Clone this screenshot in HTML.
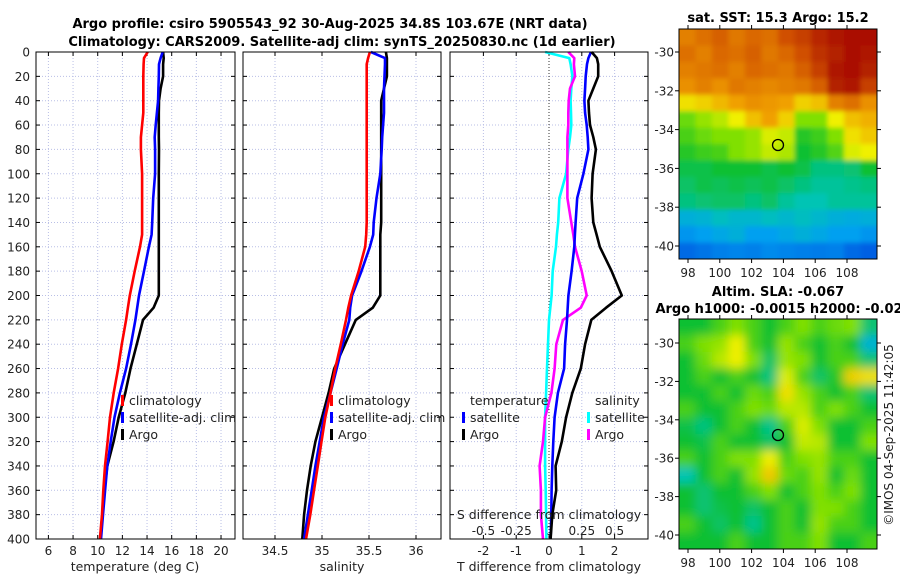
<!DOCTYPE html>
<html><head><meta charset="utf-8"><style>
html,body{margin:0;padding:0;background:#fff;}
svg{display:block;font-family:"DejaVu Sans","Liberation Sans",sans-serif;}
</style></head><body>
<svg id="fig" width="900" height="580" viewBox="0 0 900 580" xmlns="http://www.w3.org/2000/svg">
<defs>
<filter id="blurSla" x="-10%" y="-10%" width="120%" height="120%"><feGaussianBlur stdDeviation="5"/></filter>
<filter id="blurSst" x="-10%" y="-10%" width="120%" height="120%"><feGaussianBlur stdDeviation="2.5"/></filter>
<clipPath id="clipSst"><rect x="679" y="29" width="198" height="230"/></clipPath>
<clipPath id="clipSla"><rect x="679" y="319" width="198" height="230"/></clipPath>
</defs>
<text x="330" y="28" text-anchor="middle" font-size="13" font-weight="bold">Argo profile: csiro 5905543_92 30-Aug-2025 34.8S 103.67E (NRT data)</text>
<text x="342" y="46" text-anchor="middle" font-size="13" font-weight="bold">Climatology: CARS2009. Satellite-adj clim: synTS_20250830.nc (1d earlier)</text>
<text x="778" y="22" text-anchor="middle" font-size="13" font-weight="bold">sat. SST: 15.3 Argo: 15.2</text>
<text x="778" y="296" text-anchor="middle" font-size="13" font-weight="bold">Altim. SLA: -0.067</text>
<text x="779" y="313" text-anchor="middle" font-size="13" font-weight="bold">Argo h1000: -0.0015 h2000: -0.02</text>
<text transform="translate(893,435) rotate(-90)" text-anchor="middle" font-size="12" fill="#222">©IMOS 04-Sep-2025 11:42:05</text>
<g id="layer"></g>
</svg>
<script>
// ---- data ----
const depths = [0,5,10,20,30,40,50,60,70,80,100,120,140,150,160,180,200,210,220,240,260,280,300,320,340,360,380,400];
const tClim  = [14.05,13.75,13.72,13.7,13.7,13.7,13.7,13.6,13.5,13.5,13.6,13.6,13.6,13.6,13.43,13.0,12.6,12.45,12.3,11.95,11.65,11.3,11.0,10.8,10.59,10.45,10.35,10.18];
const tSat   = [15.27,15.1,14.97,14.95,14.92,14.9,14.8,14.7,14.62,14.65,14.65,14.5,14.42,14.37,14.15,13.75,13.35,13.2,13.06,12.7,12.3,11.8,11.36,11.05,10.78,10.6,10.43,10.27];
const tArgo  = [15.3,15.35,15.3,15.3,15.1,14.97,14.95,14.95,14.95,14.97,14.95,14.95,14.95,14.95,14.95,14.95,14.95,14.53,13.67,13.17,12.66,12.24,11.7,11.29,10.78,10.54,10.37,10.2];
const sClim  = [35.51,35.49,35.475,35.475,35.475,35.475,35.475,35.475,35.475,35.475,35.475,35.475,35.475,35.47,35.46,35.39,35.31,35.28,35.255,35.2,35.14,35.09,35.035,34.995,34.955,34.915,34.875,34.83];
const sSat   = [35.52,35.67,35.67,35.665,35.66,35.66,35.66,35.65,35.64,35.635,35.62,35.58,35.55,35.545,35.51,35.42,35.32,35.3,35.29,35.22,35.156,35.09,35.02,34.975,34.93,34.89,34.85,34.81];
const sArgo  = [35.68,35.69,35.69,35.69,35.66,35.63,35.63,35.63,35.63,35.63,35.63,35.63,35.63,35.62,35.62,35.62,35.62,35.54,35.36,35.245,35.13,35.07,35.0,34.93,34.88,34.84,34.81,34.79];
const dTSat  = [1.28,1.2,1.16,1.12,1.1,1.08,1.1,1.15,1.18,1.2,1.05,0.86,0.81,0.79,0.77,0.69,0.59,0.57,0.55,0.49,0.46,0.27,0.17,0.13,0.1,0.08,0.07,0.05];
const dTArgo = [1.3,1.46,1.5,1.5,1.35,1.2,1.22,1.25,1.35,1.43,1.33,1.3,1.35,1.45,1.55,1.91,2.22,1.74,1.29,1.1,0.97,0.71,0.52,0.39,0.2,0.22,0.1,0.05];
const dSSat  = [-0.03,0.155,0.165,0.178,0.17,0.165,0.168,0.17,0.16,0.147,0.13,0.079,0.07,0.06,0.053,0.028,0.02,0.01,0.0,-0.008,-0.015,-0.022,-0.03,-0.03,-0.03,-0.025,-0.022,-0.02];
const dSArgo = [0.147,0.193,0.19,0.198,0.16,0.15,0.147,0.147,0.14,0.14,0.14,0.14,0.17,0.185,0.198,0.249,0.287,0.242,0.107,0.056,0.043,0.018,-0.03,-0.046,-0.072,-0.062,-0.062,-0.046];
const depthTicks = [0,20,40,60,80,100,120,140,160,180,200,220,240,260,280,300,320,340,360,380,400];
const tTicks = [6,8,10,12,14,16,18,20];
const sTicks = [34.5,35,35.5,36];
const dTTicks = [-2,-1,0,1,2];
const dSTickLabels = ["-0.5","-0.25","0","0.25","0.5"];
const dSTicks = [-0.5,-0.25,0,0.25,0.5];
const lonTicks = [98,100,102,104,106,108];
const latTicks = [-30,-32,-34,-36,-38,-40];
const sstGrid = [
[.84,.86,.88,.85,.87,.86,.9,.92,.95,.97,.98,.98],
[.86,.84,.87,.86,.88,.85,.87,.9,.94,.96,.98,.97],
[.84,.85,.86,.84,.87,.86,.85,.88,.92,.97,.98,.96],
[.82,.84,.82,.85,.84,.83,.84,.85,.88,.96,.97,.92],
[.72,.74,.77,.8,.82,.81,.8,.74,.76,.84,.86,.82],
[.58,.62,.65,.7,.76,.8,.74,.6,.6,.7,.76,.78],
[.55,.58,.6,.6,.62,.68,.66,.52,.54,.6,.72,.75],
[.52,.54,.55,.6,.62,.66,.64,.5,.52,.56,.68,.7],
[.48,.48,.5,.5,.5,.48,.5,.48,.44,.44,.45,.5],
[.46,.48,.47,.48,.47,.48,.46,.44,.42,.42,.43,.44],
[.44,.45,.46,.46,.44,.46,.42,.4,.4,.42,.42,.42],
[.34,.35,.38,.36,.36,.38,.36,.38,.36,.34,.33,.34],
[.28,.3,.32,.34,.3,.3,.32,.34,.32,.3,.3,.28],
[.2,.22,.24,.25,.24,.26,.25,.24,.23,.24,.2,.18]];
const slaGrid = [
[.5,.5,.55,.6,.55,.5,.55,.6,.55,.58,.6,.45],
[.55,.6,.62,.7,.55,.5,.62,.55,.5,.55,.5,.35],
[.5,.58,.65,.7,.6,.46,.62,.6,.5,.55,.55,.45],
[.5,.55,.5,.55,.5,.44,.68,.55,.46,.52,.74,.72],
[.5,.5,.55,.5,.58,.55,.72,.62,.55,.5,.55,.45],
[.55,.5,.5,.55,.6,.58,.65,.65,.55,.6,.55,.5],
[.48,.44,.5,.55,.5,.43,.55,.68,.6,.5,.5,.55],
[.5,.48,.55,.5,.5,.46,.5,.66,.65,.5,.5,.6],
[.55,.5,.55,.6,.6,.7,.55,.6,.62,.55,.55,.5],
[.4,.5,.55,.5,.62,.75,.58,.55,.62,.5,.58,.5],
[.5,.45,.5,.5,.55,.6,.5,.55,.6,.55,.6,.5],
[.5,.45,.48,.5,.46,.5,.55,.5,.6,.6,.55,.5],
[.55,.5,.46,.5,.43,.5,.55,.5,.62,.55,.55,.5],
[.5,.5,.5,.55,.5,.5,.55,.55,.6,.5,.5,.55]];

// ---- helpers ----
const NS="http://www.w3.org/2000/svg";
const layer=document.getElementById('layer');
function mk(tag,attrs,parent){const e=document.createElementNS(NS,tag);for(const k in attrs)e.setAttribute(k,attrs[k]);(parent||layer).appendChild(e);return e;}
const Y0=52,Y1=539;
const yD=d=>Y0+d*(Y1-Y0)/400;
const xT=t=>48.4+(t-6)*12.33;
const xS=s=>322+(s-35)*94;
const xDT=v=>549+v*32.8;
const xDS=v=>549+v*131.2;
const panels=[{x0:36,x1:235,name:'temperature-panel'},{x0:243,x1:441,name:'salinity-panel'},{x0:450,x1:648,name:'difference-panel'}];
const gridC='#b9bfe6';

panels.forEach((p,i)=>{
  depthTicks.forEach(d=>{
    const l=mk('line',{x1:p.x0,x2:p.x1,y1:yD(d),y2:yD(d),stroke:gridC,'stroke-dasharray':'1,2','stroke-width':1});
    
    
    mk('line',{x1:p.x0,x2:p.x0+4,y1:yD(d),y2:yD(d),stroke:'#000'});
    mk('line',{x1:p.x1-4,x2:p.x1,y1:yD(d),y2:yD(d),stroke:'#000'});
  });
});
function xGrid(p,ticks,fx,labels,name){
  ticks.forEach((t,i)=>{
    const x=fx(t);
    const l=mk('line',{x1:x,x2:x,y1:Y0,y2:Y1,stroke:gridC,'stroke-dasharray':'1,2'});
    
    
    mk('line',{x1:x,x2:x,y1:Y1-4,y2:Y1,stroke:'#000'});
    mk('line',{x1:x,x2:x,y1:Y0,y2:Y0+4,stroke:'#000'});
    const tx=mk('text',{x:x,y:555,'text-anchor':'middle','font-size':12,fill:'#222'});
    tx.textContent=labels?labels[i]:String(t);
    
    
  });
}
xGrid(panels[0],tTicks,xT,null,'temperature-x');
xGrid(panels[1],sTicks,xS,null,'salinity-x');
xGrid(panels[2],dTTicks,xDT,null,'t-diff-x');
dSTicks.forEach((v,i)=>{
  const tx=mk('text',{x:xDS(v),y:535,'text-anchor':'middle','font-size':12,fill:'#222'});
  tx.textContent=dSTickLabels[i];
  
  
});
depthTicks.forEach(d=>{
  const tx=mk('text',{x:30,y:yD(d)+4.5,'text-anchor':'end','font-size':12,fill:'#222'});
  tx.textContent=String(d);
  
  
});
const z=mk('line',{x1:xDT(0),x2:xDT(0),y1:Y0,y2:Y1,stroke:'#333','stroke-dasharray':'1,2'});



function series(xs,fx,color,name){
  const pts=depths.map((d,i)=>fx(xs[i]).toFixed(1)+','+yD(d).toFixed(1)).join(' ');
  const pl=mk('polyline',{points:pts,fill:'none',stroke:color,'stroke-width':2.6,'stroke-linejoin':'round'});
  
  
}
series(tArgo,xT,'#000','argo-temperature-line');
series(tSat,xT,'#0000ff','satellite-temperature-line');
series(tClim,xT,'#ff0000','climatology-temperature-line');
series(sArgo,xS,'#000','argo-salinity-line');
series(sSat,xS,'#0000ff','satellite-salinity-line');
series(sClim,xS,'#ff0000','climatology-salinity-line');
series(dSSat,xDS,'#00ffff','satellite-s-diff-line');
series(dSArgo,xDS,'#ff00ff','argo-s-diff-line');
series(dTSat,xDT,'#0000ff','satellite-t-diff-line');
series(dTArgo,xDT,'#000','argo-t-diff-line');

panels.forEach(p=>{
  const r=mk('rect',{x:p.x0,y:Y0,width:p.x1-p.x0,height:Y1-Y0,fill:'none',stroke:'#000','stroke-width':1});
  
  
});

function legendItem(mx,tx,y,color,label,name){
  const b=mk('rect',{x:mx,y:y-10,width:3,height:11,fill:color});
  
  
  const t=mk('text',{x:tx,y:y,'font-size':12.5,fill:'#222'});
  t.textContent=label;
  
  
}
legendItem(121,129,405,'#ff0000','climatology','legend-climatology-t');
legendItem(121,129,422,'#0000ff','satellite-adj. clim','legend-satellite-t');
legendItem(121,129,439,'#000','Argo','legend-argo-t');
legendItem(330,338,405,'#ff0000','climatology','legend-climatology-s');
legendItem(330,338,422,'#0000ff','satellite-adj. clim','legend-satellite-s');
legendItem(330,338,439,'#000','Argo','legend-argo-s');
(function(){const t=mk('text',{x:470,y:405,'font-size':12.5,fill:'#222'});t.textContent='temperature';


const s=mk('text',{x:595,y:405,'font-size':12.5,fill:'#222'});s.textContent='salinity';

})();
legendItem(462,470,422,'#0000ff','satellite','legend-satellite-dt');
legendItem(462,470,439,'#000','Argo','legend-argo-dt');
legendItem(587,595,422,'#00ffff','satellite','legend-satellite-ds');
legendItem(587,595,439,'#ff00ff','Argo','legend-argo-ds');

function title(x,y,txt,name){const t=mk('text',{x:x,y:y,'text-anchor':'middle','font-size':12.5,fill:'#222'});t.textContent=txt;

}
title(135,571,'temperature (deg C)','temperature-axis-title');
title(342,571,'salinity','salinity-axis-title');
title(549,571,'T difference from climatology','t-diff-axis-title');
title(549,519,'S difference from climatology','s-diff-axis-title');

// ---- maps ----
const stops=[[0,[0,16,160]],[.15,[0,80,224]],[.3,[0,160,240]],[.4,[0,196,180]],[.5,[16,192,48]],[.6,[128,224,0]],[.7,[240,240,0]],[.8,[240,160,0]],[.9,[208,80,0]],[1,[160,0,0]]];
function cmap(v){for(let i=1;i<stops.length;i++){if(v<=stops[i][0]){const a=stops[i-1],b=stops[i],f=(v-a[0])/(b[0]-a[0]);return 'rgb('+a[1].map((c,k)=>Math.round(c+(b[1][k]-c)*f)).join(',')+')';}}return 'rgb(160,0,0)';}
function drawMap(grid,x0,y0,x1,y1,lat30y,latScale,cx,cy,name,clip,filt){
  const outer=mk('g',{'clip-path':'url(#'+clip+')'});
  const g=mk('g',{filter:'url(#'+filt+')'},outer);
  
  
  const rows=grid.length,cols=grid[0].length,cw=(x1-x0)/cols,ch=(y1-y0)/rows,pad=14;
  grid.forEach((row,r)=>row.forEach((v,c)=>{
    let x=x0+c*cw,y=y0+r*ch,w=cw+0.6,h=ch+0.6;
    if(c===0){x-=pad;w+=pad;} if(c===cols-1){w+=pad;}
    if(r===0){y-=pad;h+=pad;} if(r===rows-1){h+=pad;}
    const cell=mk('rect',{x:x.toFixed(2),y:y.toFixed(2),width:w.toFixed(2),height:h.toFixed(2),fill:cmap(v)},g);
    
    
  }));
  const fr=mk('rect',{x:x0,y:y0,width:x1-x0,height:y1-y0,fill:'none',stroke:'#000'});
  
  
  lonTicks.forEach(l=>{const x=688+(l-98)*15.9;
    mk('line',{x1:x,x2:x,y1:y1,y2:y1+4,stroke:'#000'});mk('line',{x1:x,x2:x,y1:y0-4,y2:y0,stroke:'#000'});
    const t=mk('text',{x:x,y:y1+18,'text-anchor':'middle','font-size':12,fill:'#222'});t.textContent=String(l);
    
    });
  latTicks.forEach(l=>{const y=lat30y+(-30-l)*latScale;
    mk('line',{x1:x0-4,x2:x0,y1:y,y2:y,stroke:'#000'});mk('line',{x1:x1,x2:x1+4,y1:y,y2:y,stroke:'#000'});
    const t=mk('text',{x:x0-5,y:y+4.5,'text-anchor':'end','font-size':12,fill:'#222'});t.textContent=String(l);
    
    });
  const c=mk('circle',{cx:cx,cy:cy,r:5.5,fill:'none',stroke:'#000','stroke-width':1.3});
  
  
}
drawMap(sstGrid,679,29,877,259,52,19.4,778,145,'sst-map','clipSst','blurSst');
drawMap(slaGrid,679,319,877,549,343,19.2,778,435,'sla-map','clipSla','blurSla');
</script>
</body></html>
